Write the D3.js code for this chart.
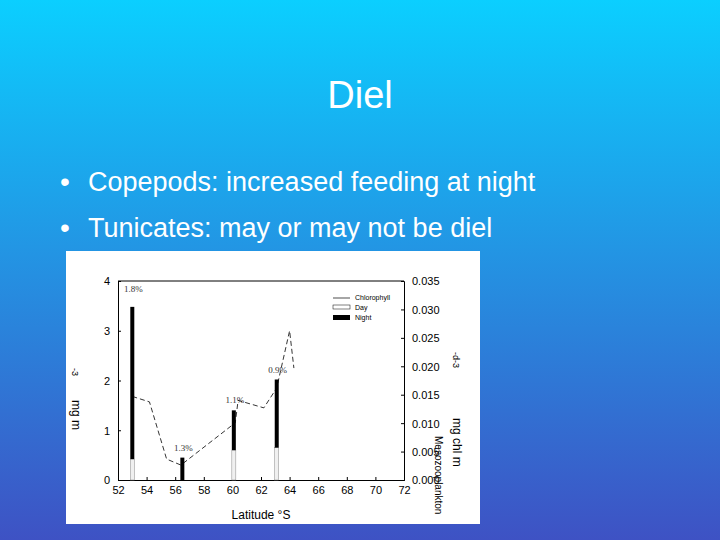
<!DOCTYPE html><html><head><meta charset="utf-8"><script src="https://cdn.jsdelivr.net/npm/d3@7"></script>
<style>body{margin:0}svg{display:block}</style></head><body><svg id="c" width="720" height="540"></svg><script>
const latTicks=[52,54,56,58,60,62,64,66,68,70,72];
const leftTicks=[0,1,2,3,4];
const rightTicks=[0.000,0.005,0.010,0.015,0.020,0.025,0.030,0.035];
const barLat=[53,56.5,60.1,63.1];
const dayVals=[0.42,0,0.6,0.65];
const nightVals=[3.48,0.45,1.4,2.02];
const pctLabels=["1.8%","1.3%","1.1%","0.9%"];
const chlLat=[53,54.2,55.4,56.4,60.2,60.4,62.2,63.1,64,64.3];
const chlVal=[1.68,1.57,0.42,0.3,1.15,1.6,1.45,1.85,3.0,2.25];
const bullets=["Copepods: increased feeding at night","Tunicates: may or may not be diel"];

const svg=d3.select("#c");
const defs=svg.append("defs");
const g=defs.append("linearGradient").attr("id","bg").attr("x1",0).attr("y1",0).attr("x2",0).attr("y2",1);
g.append("stop").attr("offset","0").attr("stop-color","#0bcfff");
g.append("stop").attr("offset","1").attr("stop-color","#3e52c4");
svg.append("rect").attr("width",720).attr("height",540).attr("fill","url(#bg)");
svg.append("text").attr("x",360).attr("y",108).attr("text-anchor","middle").attr("fill","#fff").attr("font-family","Liberation Sans, Arial").attr("font-size",38).text("Diel");
bullets.forEach((b,i)=>{
  svg.append("text").attr("x",60).attr("y",191+i*46).attr("fill","#fff").attr("font-family","Liberation Sans, Arial").attr("font-size",28).text("•");
  svg.append("text").attr("x",88).attr("y",191+i*46).attr("fill","#fff").attr("font-family","Liberation Sans, Arial").attr("font-size",27).text(b);
});
svg.append("rect").attr("x",66).attr("y",251).attr("width",414).attr("height",273).attr("fill","#fff");
const x=d3.scaleLinear().domain([52,72]).range([118,404]);
const y=d3.scaleLinear().domain([0,4]).range([480,281]);
const y2=d3.scaleLinear().domain([0,0.035]).range([480,281]);
const ff="Liberation Sans, Arial";
const ax=svg.append("g").attr("transform","translate(0,480)").call(d3.axisBottom(x).tickValues(latTicks).tickSize(-3).tickFormat(d3.format("d")));
const ay=svg.append("g").attr("transform","translate(118,0)").call(d3.axisLeft(y).tickValues(leftTicks).tickSize(-3).tickFormat(d3.format("d")));
const ay2=svg.append("g").attr("transform","translate(404,0)").call(d3.axisRight(y2).tickValues(rightTicks).tickSize(-3).tickFormat(d3.format(".3f")));
svg.append("line").attr("x1",118).attr("x2",404).attr("y1",281).attr("y2",281).attr("stroke","#000");
[ax,ay,ay2].forEach(a=>{a.selectAll("text").attr("font-family",ff).attr("font-size",11).attr("fill","#000");a.selectAll(".tick text").attr("dy",null);});
ax.selectAll(".tick text").attr("y",14);
ay.selectAll(".tick text").attr("x",-8).attr("dy","0.35em");
ay2.selectAll(".tick text").attr("x",8).attr("dy","0.35em");
const bw=4;
svg.selectAll(".day").data(barLat).join("rect").attr("x",d=>x(d)-bw/2).attr("width",bw)
  .attr("y",(d,i)=>y(dayVals[i])).attr("height",(d,i)=>y(0)-y(dayVals[i])).attr("fill","#f0f0f0").attr("stroke","#888").attr("stroke-width",0.5);
svg.selectAll(".night").data(barLat).join("rect").attr("x",d=>x(d)-bw/2).attr("width",bw)
  .attr("y",(d,i)=>y(nightVals[i])).attr("height",(d,i)=>y(dayVals[i])-y(nightVals[i])).attr("fill","#000");
svg.selectAll(".pct").data(barLat).join("text").attr("x",d=>x(d)+1).attr("y",(d,i)=>y(nightVals[i])-7+(i==0?-8:0))
  .attr("text-anchor","middle").attr("font-family","Liberation Serif, Times").attr("font-size",9).attr("fill","#333").text((d,i)=>pctLabels[i]);
const line=d3.line().x((d,i)=>x(chlLat[i])).y(d=>y(d));
svg.append("path").attr("d",line(chlVal)).attr("fill","none").attr("stroke","#000").attr("stroke-width",0.8).attr("stroke-dasharray","5,3");
const lg=svg.append("g").attr("font-family",ff).attr("font-size",7);
lg.append("line").attr("x1",333).attr("x2",350).attr("y1",298).attr("y2",298).attr("stroke","#000").attr("stroke-width",0.7);
lg.append("text").attr("x",355).attr("y",300).text("Chlorophyll");
lg.append("rect").attr("x",333).attr("y",305).attr("width",17).attr("height",4).attr("fill","#fff").attr("stroke","#000").attr("stroke-width",0.5);
lg.append("text").attr("x",355).attr("y",310).text("Day");
lg.append("rect").attr("x",333).attr("y",315).attr("width",17).attr("height",5).attr("fill","#000");
lg.append("text").attr("x",355).attr("y",320).text("Night");
svg.append("text").attr("x",261).attr("y",519).attr("text-anchor","middle").attr("font-family",ff).attr("font-size",12).text("Latitude °S");
svg.append("text").attr("transform","translate(72,400) rotate(90)").attr("font-family",ff).attr("font-size",12).text("mg m");
svg.append("text").attr("transform","translate(72,368) rotate(90)").attr("font-family",ff).attr("font-size",9).text("-3");
svg.append("text").attr("transform","translate(453,418) rotate(90)").attr("font-family",ff).attr("font-size",12).text("mg chl m");
svg.append("text").attr("transform","translate(453,352) rotate(90)").attr("font-family",ff).attr("font-size",9).text("-d-3");
svg.append("text").attr("transform","translate(435,436) rotate(90)").attr("font-family",ff).attr("font-size",10).text("Mesozooplankton");
</script></body></html>
